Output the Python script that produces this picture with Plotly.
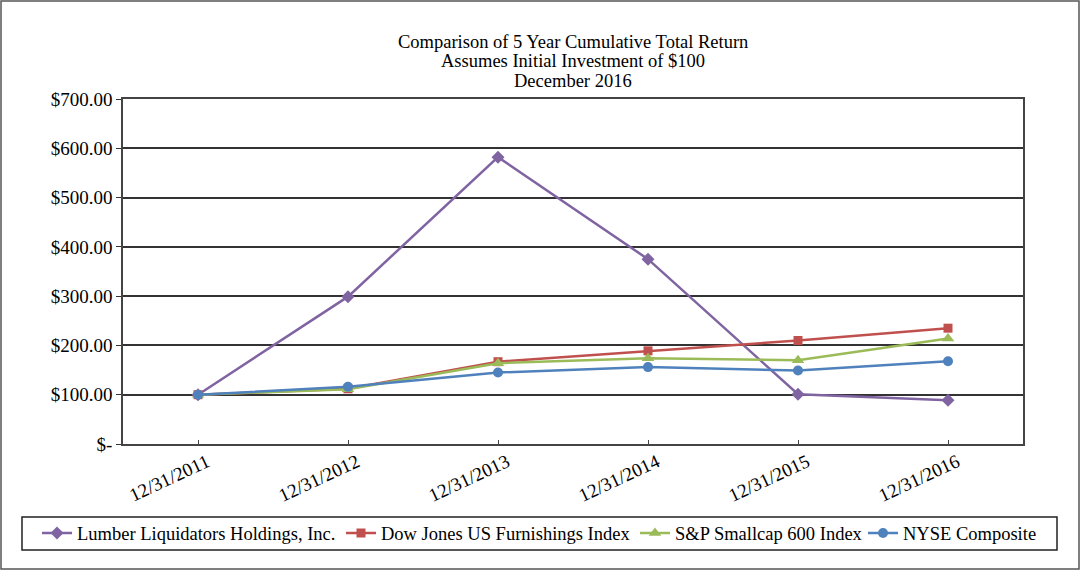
import plotly.graph_objects as go

dates = ["12/31/2011", "12/31/2012", "12/31/2013", "12/31/2014", "12/31/2015", "12/31/2016"]
lumber = [100, 299, 582, 375, 101, 89]
dowjones = [100, 112, 167, 189, 210, 235]
sp600 = [100, 111, 164, 174, 170, 214]
nyse = [100, 116, 145, 156, 149, 168]
ytick_vals = [0, 100, 200, 300, 400, 500, 600, 700]
ytick_text = ["$-", "$100.00", "$200.00", "$300.00", "$400.00", "$500.00", "$600.00", "$700.00"]

FONT = "Liberation Serif, Times New Roman, serif"
FS = 19

L, R, T, B = 123, 1082 - 1023, 99, 571 - 444
W, H = 1082 - L - R, 571 - T - B

def px(x):
    return (x - L) / W

def py(y):
    return (T + H - y) / H

# (name, values, colour, symbol, size, legend id, legend line start px)
series = [
    ("Lumber Liquidators Holdings, Inc.", lumber, "#8064A2", "diamond", 10, "legend", 43),
    ("Dow Jones US Furnishings Index", dowjones, "#C0504D", "square", 9, "legend2", 347),
    ("S&P Smallcap 600 Index", sp600, "#9BBB59", "triangle-up", 11, "legend3", 641),
    ("NYSE Composite", nyse, "#4F81BD", "circle", 10, "legend4", 869),
]

fig = go.Figure()
legends = {}
for name, vals, color, sym, size, leg, lx in series:
    fig.add_trace(go.Scatter(
        x=dates, y=vals, name=name, mode="lines+markers",
        line=dict(color=color, width=2.5),
        marker=dict(symbol=sym, size=size, color=color),
        legend=leg,
    ))
    legends[leg] = dict(orientation="h", x=px(lx - 6), xanchor="left", y=py(533.5), yanchor="middle",
                        font=dict(family=FONT, size=18.5, color="black"), bgcolor="rgba(0,0,0,0)",
                        itemwidth=30, borderwidth=0)

shapes = [
    dict(type="rect", xref="paper", yref="paper", x0=px(1), x1=px(1079), y0=py(569), y1=py(1),
         line=dict(color="#555555", width=1.5), fillcolor="rgba(0,0,0,0)", layer="below"),
    dict(type="rect", xref="paper", yref="paper", x0=px(22), x1=px(1057), y0=py(550), y1=py(517),
         line=dict(color="#222222", width=1.5), fillcolor="rgba(0,0,0,0)"),
]

titles = ["Comparison of 5 Year Cumulative Total Return", "Assumes Initial Investment of $100", "December 2016"]
title_y = [42, 61.5, 81]
annotations = [
    dict(text=t, xref="paper", yref="paper", x=0.5, y=py(yy), xanchor="center", yanchor="middle",
         showarrow=False, font=dict(family=FONT, size=18.5, color="black"))
    for t, yy in zip(titles, title_y)
]

fig.update_layout(
    width=1082, height=571,
    margin=dict(l=L, r=R, t=T, b=B),
    paper_bgcolor="white", plot_bgcolor="white",
    font=dict(family=FONT, size=FS, color="black"),
    shapes=shapes, annotations=annotations,
    showlegend=True,
    **legends,
    xaxis=dict(type="category", range=[-0.5, 5.5], showgrid=False,
               showline=True, linecolor="#444444", linewidth=1.5, mirror=True,
               ticks="inside", ticklen=4, tickcolor="#444444", tickangle=-25,
               ticklabelshift=9, ticklabelstandoff=-2,
               tickfont=dict(family=FONT, size=FS, color="black")),
    yaxis=dict(range=[0, 700], tickvals=ytick_vals, ticktext=ytick_text,
               showgrid=True, gridcolor="#333333", gridwidth=1.5,
               showline=True, linecolor="#444444", linewidth=1.5, mirror=True,
               ticks="outside", ticklen=5, tickcolor="#333333", zeroline=False,
               tickfont=dict(family=FONT, size=FS, color="black")),
)

fig.write_html("out.html", config={"displayModeBar": False},
               post_script="document.body.style.margin='0';document.body.style.overflow='hidden';")
